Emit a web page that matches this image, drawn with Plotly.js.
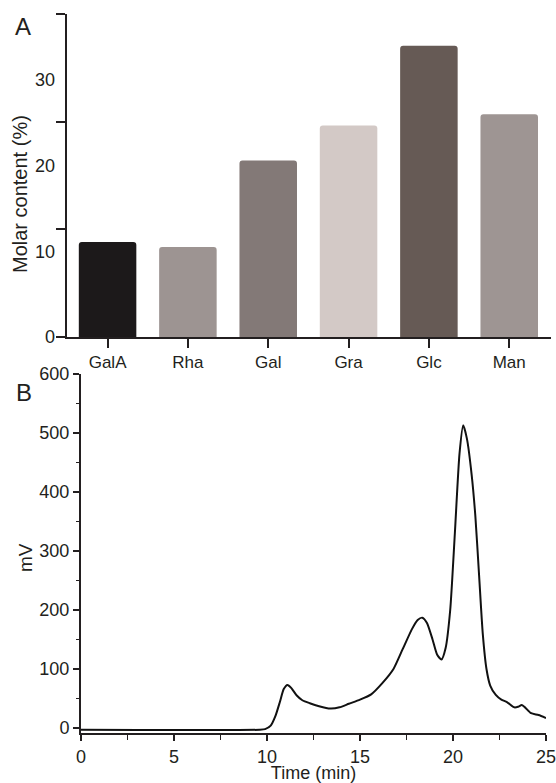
<!DOCTYPE html>
<html>
<head>
<meta charset="utf-8">
<script src="https://cdn.plot.ly/plotly-3.0.1.min.js"></script>
<style>html,body{margin:0;padding:0;background:#fff}#chart{width:556px;height:783px}</style>
</head>
<body>
<div id="chart"></div>
<script>
// Panel A: monosaccharide composition
var sugars = ["GalA", "Rha", "Gal", "Gra", "Glc", "Man"];
var molarContent = [11.1, 10.5, 20.6, 24.7, 34.0, 26.0];
var barColors = ["#1c191a", "#9d9492", "#837977", "#d3c9c6", "#665a55", "#9e9593"];
var molarTickLabels = [0, 10, 20, 30];
var molarTickMarks = [0, 12.57, 25.13, 37.7];

// Panel B: chromatogram
var timeMin = [0, 9.6, 9.9, 10.2, 10.45, 10.7, 10.9, 11.1, 11.3, 11.6, 11.9, 12.3, 12.8, 13.4, 13.9, 14.4, 15.0, 15.6, 16.2, 16.8, 17.3, 17.8, 18.1, 18.35, 18.6, 18.9, 19.15, 19.38, 19.6, 19.85, 20.1, 20.35, 20.55, 20.75, 21.0, 21.2, 21.4, 21.6, 21.8, 22.0, 22.3, 22.6, 22.9, 23.3, 23.5, 23.7, 23.9, 24.2, 24.6, 25.0];
var signalMV = [-3, -3, -2, 4, 20, 45, 66, 73, 68, 55, 47, 42, 37, 33, 35, 41, 48, 57, 76, 100, 134, 168, 183, 187, 178, 150, 124, 116, 135, 200, 330, 465, 513, 490, 430, 360, 260, 160, 100, 72, 56, 48, 44, 35, 36, 39, 34, 25, 22, 17];

var ink = "#231f20";
var fnt = "Liberation Sans, Arial, Helvetica, sans-serif";
var W = 556, H = 783;

var traces = [
  {type: "bar", x: sugars, y: molarContent, marker: {color: barColors, line: {width: 0}},
   xaxis: "x", yaxis: "y", hoverinfo: "x+y"},
  {type: "scatter", mode: "none", x: sugars, y: molarContent, xaxis: "x", yaxis: "y3",
   hoverinfo: "skip", showlegend: false},
  {type: "scatter", mode: "lines", x: timeMin, y: signalMV,
   line: {color: "#111", width: 2, shape: "spline", smoothing: 0.6},
   xaxis: "x2", yaxis: "y2", hoverinfo: "x+y"}
];

var layout = {
  width: W, height: H,
  margin: {l: 0, r: 0, t: 0, b: 0},
  paper_bgcolor: "#fff", plot_bgcolor: "#fff",
  showlegend: false,
  font: {family: fnt, size: 18, color: ink},
  bargap: 0.284,
  barcornerradius: 3,
  xaxis: {
    domain: [67 / W, 551 / W], anchor: "y", range: [-0.505, 5.52],
    showline: true, linewidth: 2, linecolor: ink, showgrid: false, zeroline: false,
    ticks: "outside", ticklen: 9, tickwidth: 2, tickcolor: ink,
    tickfont: {size: 17, color: ink}, fixedrange: true
  },
  yaxis: {
    domain: [1 - 337 / H, 1 - 14 / H], anchor: "x", range: [0, 37.7],
    tickmode: "array", tickvals: molarTickLabels, ticks: "", ticklabelstandoff: 11,
    showline: false, showgrid: false, zeroline: false,
    tickfont: {size: 18, color: ink},
    fixedrange: true
  },
  yaxis3: {
    overlaying: "y", anchor: "x", side: "left", range: [0, 37.7],
    tickmode: "array", tickvals: molarTickMarks, ticks: "outside", ticklen: 9, tickwidth: 2, tickcolor: ink,
    showticklabels: false, showline: true, linewidth: 2, linecolor: ink,
    showgrid: false, zeroline: false, fixedrange: true
  },
  xaxis2: {
    domain: [81 / W, 546 / W], anchor: "y2", range: [0, 25],
    tickmode: "linear", tick0: 0, dtick: 5,
    ticks: "outside", ticklen: 6, tickwidth: 1.5, tickcolor: ink,
    minor: {dtick: 2.5, ticks: "outside", ticklen: 5, tickwidth: 1.5, tickcolor: ink},
    showline: true, linewidth: 2, linecolor: ink, showgrid: false, zeroline: false,
    tickfont: {size: 18, color: ink}, ticklabeloverflow: "allow",
    title: {text: "Time (min)", font: {size: 18, color: ink}, standoff: 5},
    fixedrange: true
  },
  yaxis2: {
    domain: [1 - 733.3 / H, 1 - 374 / H], anchor: "x2", range: [-9, 600],
    tickmode: "linear", tick0: 0, dtick: 100,
    ticks: "outside", ticklen: 6, tickwidth: 1.5, tickcolor: ink,
    minor: {dtick: 50, ticks: "outside", ticklen: 3, tickwidth: 1.5, tickcolor: ink},
    showline: true, linewidth: 2, linecolor: ink, showgrid: false, zeroline: false,
    tickfont: {size: 18, color: ink},
    fixedrange: true
  },
  annotations: [
    {text: "A", xref: "paper", yref: "paper", x: 23 / W, y: 1 - 27 / H, xanchor: "center", yanchor: "middle",
     showarrow: false, font: {size: 24, color: ink, family: fnt}},
    {text: "B", xref: "paper", yref: "paper", x: 24 / W, y: 1 - 392 / H, xanchor: "center", yanchor: "middle",
     showarrow: false, font: {size: 24, color: ink, family: fnt}},
    {text: "Molar content (%)", xref: "paper", yref: "paper", x: 20 / W, y: 1 - 194 / H,
     xanchor: "center", yanchor: "middle", textangle: -90, showarrow: false,
     font: {size: 20, color: ink, family: fnt}},
    {text: "mV", xref: "paper", yref: "paper", x: 25 / W, y: 1 - 558 / H,
     xanchor: "center", yanchor: "middle", textangle: -90, showarrow: false,
     font: {size: 19, color: ink, family: fnt}}
  ]
};

Plotly.newPlot("chart", traces, layout, {displayModeBar: false, staticPlot: true});
</script>
</body>
</html>
